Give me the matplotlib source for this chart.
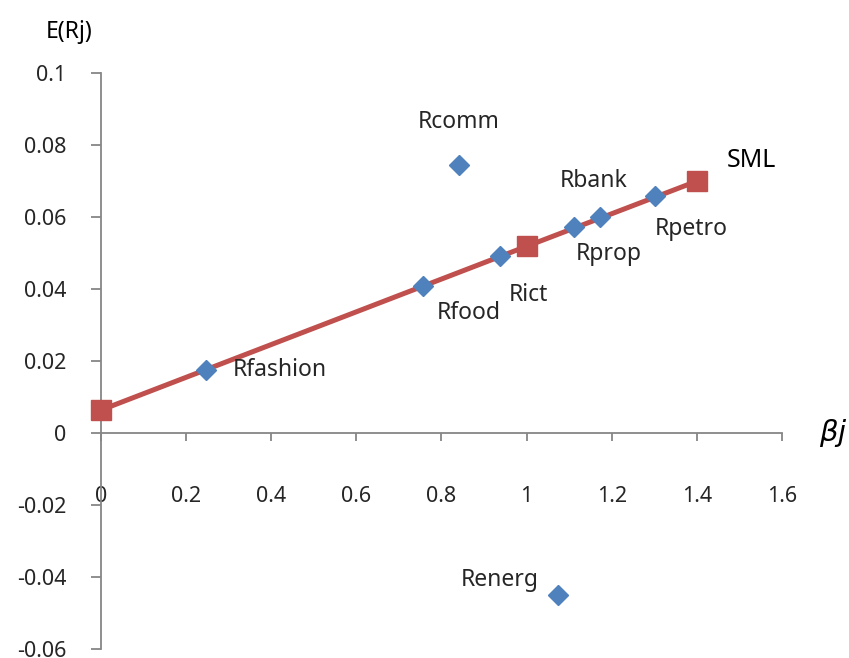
import matplotlib.pyplot as plt

# SML points (beta, expected return)
sml_beta = [0.0, 1.0, 1.4]
sml_ret = [0.0064, 0.0519, 0.070]

# Sector portfolios
sectors = ["Rfashion", "Rfood", "Rict", "Rprop", "Rbank", "Rpetro", "Rcomm", "Renerg"]
sector_beta = [0.247, 0.757, 0.937, 1.111, 1.172, 1.302, 0.841, 1.074]
sector_ret = [0.0175, 0.0408, 0.0492, 0.0572, 0.0600, 0.0658, 0.0744, -0.0450]

x_ticks = [0, 0.2, 0.4, 0.6, 0.8, 1, 1.2, 1.4, 1.6]
x_tick_labels = ["0", "0.2", "0.4", "0.6", "0.8", "1", "1.2", "1.4", "1.6"]
y_ticks = [-0.06, -0.04, -0.02, 0, 0.02, 0.04, 0.06, 0.08, 0.1]
y_tick_labels = ["-0.06", "-0.04", "-0.02", "0", "0.02", "0.04", "0.06", "0.08", "0.1"]

# label offsets in pixels (dx, dy, ha)
label_pos = {
    "Rfashion": (27, 0, "left"),
    "Rfood": (46, -27, "center"),
    "Rict": (29, -39, "center"),
    "Rprop": (35, -27, "center"),
    "Rbank": (-6, 36, "center"),
    "Rpetro": (36, -33, "center"),
    "Rcomm": (0, 43, "center"),
    "Renerg": (-58, 15, "center"),
}

plt.rcParams["font.family"] = ["Noto Sans", "DejaVu Sans"]
gray = "#868686"
txt = "#262626"

fig = plt.figure(figsize=(8.49, 6.58), dpi=100)
ax = fig.add_axes([0.119, 0.0137, 0.802, 0.875])

ax.plot(sml_beta, sml_ret, color="#C0504D", lw=3.6, marker="s", ms=14,
        zorder=3, clip_on=False)
ax.plot(sector_beta, sector_ret, ls="none", marker="D", ms=10,
        color="#4F81BD", zorder=4, clip_on=False)

for name, bx, ry in zip(sectors, sector_beta, sector_ret):
    dx, dy, ha = label_pos[name]
    ax.annotate(name, (bx, ry), xytext=(dx, dy), textcoords="offset pixels",
                ha=ha, va="center", fontsize=16.5, color=txt)

ax.annotate("SML", (sml_beta[-1], sml_ret[-1]), xytext=(55, 21),
            textcoords="offset pixels", ha="center", va="center",
            fontsize=18, color="black")

ax.set_xlim(0, 1.6)
ax.set_ylim(-0.06, 0.1)
ax.spines["left"].set_position(("data", 0))
ax.spines["bottom"].set_position(("data", 0))
ax.spines["top"].set_visible(False)
ax.spines["right"].set_visible(False)
for s in ["left", "bottom"]:
    ax.spines[s].set_color(gray)
    ax.spines[s].set_linewidth(1.3)

ax.set_xticks(x_ticks)
ax.set_xticklabels(x_tick_labels)
ax.set_yticks(y_ticks)
ax.set_yticklabels(y_tick_labels)
ax.tick_params(axis="x", direction="out", length=6, width=1.3, color=gray,
               pad=32, labelsize=15.5, labelcolor=txt)
ax.tick_params(axis="y", direction="out", length=7, width=1.3, color=gray,
               pad=18, labelsize=15.5, labelcolor=txt)

fig.text(0.081, 0.951, "E(Rj)", fontsize=16.5, ha="center", va="center")
fig.text(0.982, 0.342, r"$\beta j$", fontsize=21, ha="center", va="center",
         fontweight="bold")

fig.savefig("out.png", dpi=100)
